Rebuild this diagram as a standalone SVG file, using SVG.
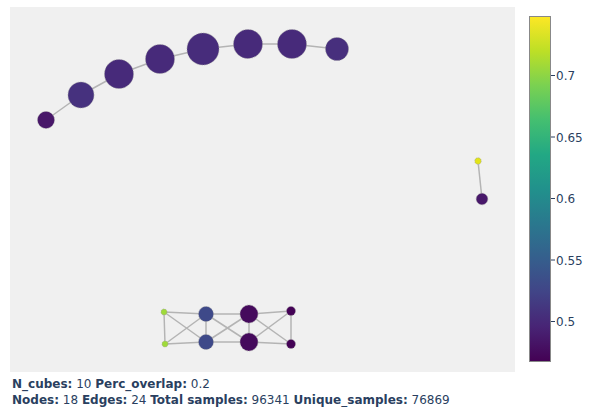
<svg xmlns="http://www.w3.org/2000/svg" width="600" height="407" viewBox="0 0 600 407">
<defs>
<linearGradient id="viridis" x1="0" y1="1" x2="0" y2="0">
<stop offset="0" stop-color="#440154"/>
<stop offset="0.1" stop-color="#482475"/>
<stop offset="0.2" stop-color="#414487"/>
<stop offset="0.3" stop-color="#355f8d"/>
<stop offset="0.4" stop-color="#2a788e"/>
<stop offset="0.5" stop-color="#21918c"/>
<stop offset="0.6" stop-color="#22a884"/>
<stop offset="0.7" stop-color="#44bf70"/>
<stop offset="0.8" stop-color="#7ad151"/>
<stop offset="0.9" stop-color="#bddf26"/>
<stop offset="1" stop-color="#fde725"/>
</linearGradient>
</defs>
<style>
.edge{stroke:#b4b4b4;stroke-width:1.5;fill:none}
.node circle{stroke:#999;stroke-width:0.6;stroke-dasharray:1.5 1}
.txt{font-family:"DejaVu Sans",Verdana,sans-serif;font-size:12px;fill:#2a3f5f}
.b{font-weight:bold}
.tick{stroke:#2a3f5f;stroke-width:1}
</style>
<rect x="0" y="0" width="600" height="407" fill="#ffffff"/>
<rect x="10" y="7" width="505" height="365" fill="#f0f0f0"/>
<g id="connectors">
<line class="edge" x1="46" y1="120" x2="81" y2="95"/>
<line class="edge" x1="81" y1="95" x2="119" y2="74"/>
<line class="edge" x1="119" y1="74" x2="160" y2="59"/>
<line class="edge" x1="160" y1="59" x2="203" y2="49"/>
<line class="edge" x1="203" y1="49" x2="248" y2="44"/>
<line class="edge" x1="248" y1="44" x2="292" y2="44"/>
<line class="edge" x1="292" y1="44" x2="337" y2="49"/>
<line class="edge" x1="478" y1="161" x2="482" y2="199"/>
<line class="edge" x1="164" y1="312" x2="165" y2="344"/>
<line class="edge" x1="164" y1="312" x2="206" y2="314"/>
<line class="edge" x1="164" y1="312" x2="206" y2="342"/>
<line class="edge" x1="165" y1="344" x2="206" y2="314"/>
<line class="edge" x1="165" y1="344" x2="206" y2="342"/>
<line class="edge" x1="206" y1="314" x2="206" y2="342"/>
<line class="edge" x1="206" y1="314" x2="249" y2="314"/>
<line class="edge" x1="206" y1="314" x2="249" y2="342"/>
<line class="edge" x1="206" y1="342" x2="249" y2="314"/>
<line class="edge" x1="206" y1="342" x2="249" y2="342"/>
<line class="edge" x1="249" y1="314" x2="249" y2="342"/>
<line class="edge" x1="249" y1="314" x2="291" y2="311"/>
<line class="edge" x1="249" y1="314" x2="291" y2="344"/>
<line class="edge" x1="249" y1="342" x2="291" y2="311"/>
<line class="edge" x1="249" y1="342" x2="291" y2="344"/>
<line class="edge" x1="291" y1="311" x2="291" y2="344"/>
</g>
<g id="n1" class="node"><circle cx="46" cy="120" r="8.5" fill="#481769"/></g>
<g id="n2" class="node"><circle cx="81" cy="95" r="13" fill="#46317e"/></g>
<g id="n3" class="node"><circle cx="119" cy="74" r="14.5" fill="#472a7a"/></g>
<g id="n4" class="node"><circle cx="160" cy="59" r="14.5" fill="#472a7a"/></g>
<g id="n5" class="node"><circle cx="203" cy="49" r="16" fill="#472c7b"/></g>
<g id="n6" class="node"><circle cx="248" cy="44" r="14.5" fill="#472a7a"/></g>
<g id="n7" class="node"><circle cx="292" cy="44" r="14.5" fill="#472a7a"/></g>
<g id="n8" class="node"><circle cx="337" cy="49" r="11.5" fill="#472f7d"/></g>
<g id="n9" class="node"><circle cx="478" cy="161" r="3.2" fill="#e2e418"/></g>
<g id="n10" class="node"><circle cx="482" cy="199" r="5.8" fill="#48186a"/></g>
<g id="n11" class="node"><circle cx="164" cy="312" r="3" fill="#9fda3a"/></g>
<g id="n12" class="node"><circle cx="165" cy="344" r="3" fill="#9fda3a"/></g>
<g id="n13" class="node"><circle cx="206" cy="314" r="7.5" fill="#3e4989"/></g>
<g id="n14" class="node"><circle cx="206" cy="342" r="7.5" fill="#3e4989"/></g>
<g id="n15" class="node"><circle cx="249" cy="314" r="9" fill="#450a5c"/></g>
<g id="n16" class="node"><circle cx="249" cy="342" r="9" fill="#450a5c"/></g>
<g id="n17" class="node"><circle cx="291" cy="311" r="4.5" fill="#440256"/></g>
<g id="n18" class="node"><circle cx="291" cy="344" r="4.5" fill="#440256"/></g>
<g id="colorbar">
<rect x="529.5" y="16.5" width="21" height="345" fill="url(#viridis)" stroke="#888" stroke-width="1"/>
<line class="tick" x1="551" y1="75.5" x2="555" y2="75.5"/>
<line class="tick" x1="551" y1="137" x2="555" y2="137"/>
<line class="tick" x1="551" y1="198.5" x2="555" y2="198.5"/>
<line class="tick" x1="551" y1="260" x2="555" y2="260"/>
<line class="tick" x1="551" y1="321.5" x2="555" y2="321.5"/>
<text class="txt" x="556" y="80">0.7</text>
<text class="txt" x="556" y="141.5">0.65</text>
<text class="txt" x="556" y="203">0.6</text>
<text class="txt" x="556" y="264.5">0.55</text>
<text class="txt" x="556" y="326">0.5</text>
</g>
<text class="txt" x="12" y="388"><tspan class="b">N_cubes:</tspan> 10 <tspan class="b">Perc_overlap:</tspan> 0.2</text>
<text class="txt" x="12" y="403.5"><tspan class="b">Nodes:</tspan> 18 <tspan class="b">Edges:</tspan> 24 <tspan class="b">Total samples:</tspan> 96341 <tspan class="b">Unique_samples:</tspan> 76869</text>
</svg>
